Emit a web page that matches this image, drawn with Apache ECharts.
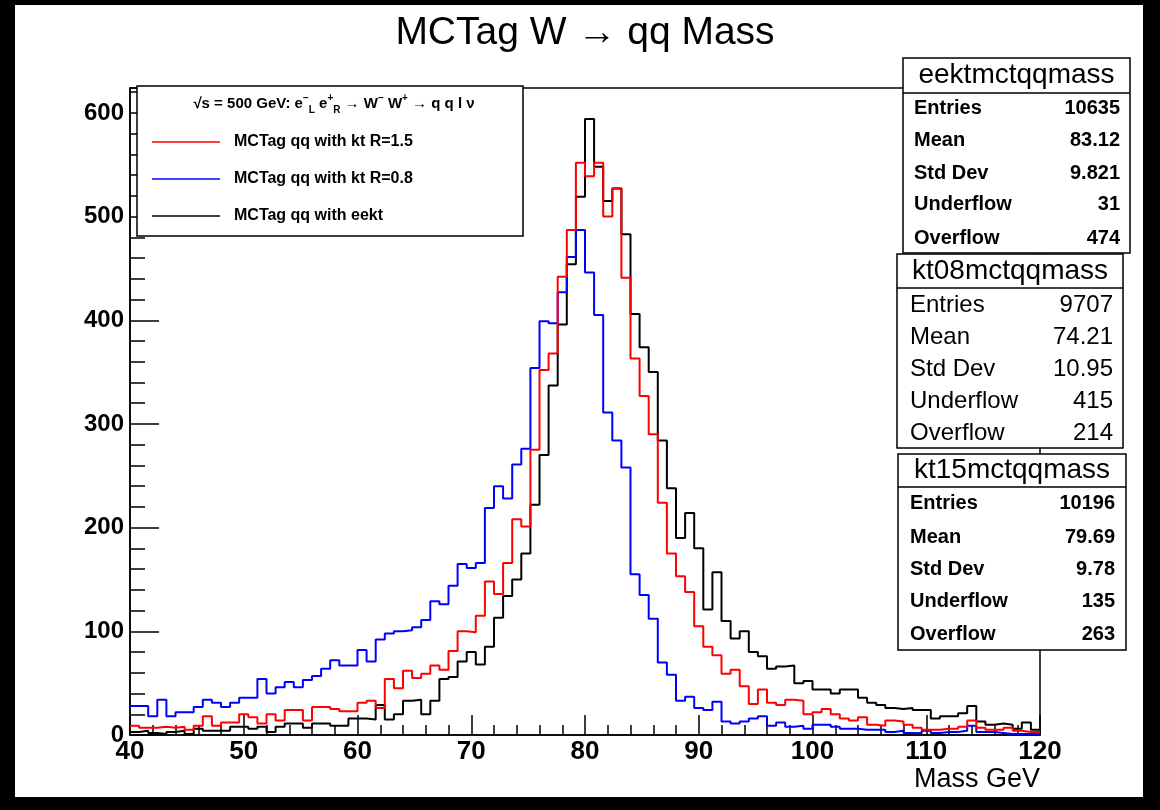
<!DOCTYPE html>
<html><head><meta charset="utf-8">
<script src="https://cdn.jsdelivr.net/npm/echarts@6/dist/echarts.min.js"></script>
<style>html,body{margin:0;padding:0;background:#000;} #c{width:1160px;height:810px;}</style>
</head><body><div id="c"></div>
<script>
// ---- data ----
const histMin = 40, histMax = 120, nBins = 100;
const kt15 = [9,7,7,8,7,8,5,9,18,9,
 12,12,20,17,11,20,14,24,24,14,
 27,27,25,23,23,31,33,26,54,45,
 62,55,59,67,63,81,100,99,115,148,
 136,166,208,201,275,352,368,442,487,552,
 539,552,500,527,441,363,327,290,224,175,
 153,138,105,85,77,59,63,47,30,44,
 31,29,34,33,20,22,25,20,16,14,
 17,10,9,14,13,10,7,5,5,6,
 6,8,14,7,5,5,7,4,3,3];
const kt08 = [28,28,18,34,18,22,22,27,34,31,
 27,31,36,36,54,40,46,51,46,53,
 57,64,72,67,67,82,71,92,98,100,
 101,104,111,129,126,144,165,161,166,219,
 240,228,261,276,354,399,397,427,461,487,
 446,405,311,284,258,155,135,112,70,58,
 33,37,26,24,32,13,11,13,16,18,
 9,12,8,9,6,10,10,8,6,6,
 5,5,5,3,4,2,2,4,2,3,
 3,4,9,3,3,2,1,1,1,1];
const eekt = [3,4,2,1,3,4,1,6,4,4,
 4,8,8,6,8,3,8,11,11,7,
 11,11,9,9,16,16,15,29,15,20,
 33,34,20,33,54,56,71,80,68,85,
 113,134,150,175,222,270,337,396,454,519,
 594,548,515,527,483,406,374,350,284,238,
 190,214,180,121,157,110,93,100,80,76,
 64,66,67,50,52,44,44,40,44,44,
 36,31,29,26,25,26,24,24,16,18,
 18,21,28,13,10,11,10,6,12,5];
const chartTitle = 'MCTag W \u2192 qq Mass';
const xTitle = 'Mass GeV';
const legendLabels = ['MCTag qq with kt R=1.5','MCTag qq with kt R=0.8','MCTag qq with eekt'];
const statNames = ['eektmctqqmass','kt08mctqqmass','kt15mctqqmass'];
const statLabels = ['Entries','Mean','Std Dev','Underflow','Overflow'];
const statEekt = ['10635','83.12','9.821','31','474'];
const statKt08 = ['9707','74.21','10.95','415','214'];
const statKt15 = ['10196','79.69','9.78','135','263'];

// ---- build ----
const FONT = 'Liberation Sans, Arial, sans-serif';
function toSteps(vals){
  const w = (histMax - histMin) / nBins;
  const pts = vals.map((v,i)=>[+(histMin + i*w).toFixed(4), v]);
  pts.push([histMax, vals[vals.length-1]]);
  return pts;
}
const gridRect = {left:130, right:120, top:88, bottom:75};
const chart = echarts.init(document.getElementById('c'), null, {renderer:'canvas'});

const graphics = [];
graphics.push({type:'rect', z:-10, silent:true, shape:{x:15,y:5,width:1128,height:792}, style:{fill:'#fff'}});
graphics.push({type:'text', x:585, y:33, style:{text:chartTitle, fill:'#000', fontSize:39, fontFamily:FONT, align:'center', verticalAlign:'middle'}});
graphics.push({type:'text', x:1040, y:780, style:{text:xTitle, fill:'#000', fontSize:27, fontFamily:FONT, align:'right', verticalAlign:'middle'}});

// legend
graphics.push({type:'rect', z:10, shape:{x:137,y:86,width:386,height:150}, style:{fill:'#fff', stroke:'#000', lineWidth:1.5}});
graphics.push({type:'text', z:11, x:334, y:104, style:{
  text:'{n|\u221As = 500 GeV: e}{sp|\u2212}{sb|L}{n| e}{sp|+}{sb|R}{n| \u2192 W}{sp|\u2212}{n| W}{sp|+}{n| \u2192 q q l \u03BD}',
  align:'center', verticalAlign:'middle', fill:'#000',
  rich:{
    n:{fontSize:15, fontWeight:'bold', fontFamily:FONT, lineHeight:22, verticalAlign:'middle'},
    sp:{fontSize:10, fontWeight:'bold', fontFamily:FONT, lineHeight:10, verticalAlign:'top'},
    sb:{fontSize:10, fontWeight:'bold', fontFamily:FONT, lineHeight:10, verticalAlign:'bottom'}
  }}});
const legColors = ['#ff0000','#0000ff','#000000'];
const legY = [142,179,216];
legendLabels.forEach((t,i)=>{
  graphics.push({type:'line', z:11, shape:{x1:152,y1:legY[i],x2:220,y2:legY[i]}, style:{stroke:legColors[i], lineWidth:1.5}});
  graphics.push({type:'text', z:11, x:234, y:legY[i], style:{text:t, fill:'#000', fontSize:16, fontWeight:'bold', fontFamily:FONT, align:'left', verticalAlign:'middle'}});
});

// stat boxes
const boxes = [
  {x:903, y:58, w:227, h:195, sep:93, titleY:75, rows:[108,140,173,204,238], lx:914, rx:1120, fs:20, fw:'bold', tfs:28, vals:statEekt},
  {x:897, y:254, w:226, h:194, sep:288, titleY:271, rows:[305,337,369,401,433], lx:910, rx:1113, fs:24, fw:'normal', tfs:28, vals:statKt08},
  {x:898, y:454, w:228, h:196, sep:487, titleY:470, rows:[503,537,569,601,634], lx:910, rx:1115, fs:20, fw:'bold', tfs:28, vals:statKt15}
];
boxes.forEach((b,k)=>{
  graphics.push({type:'rect', z:10, shape:{x:b.x,y:b.y,width:b.w,height:b.h}, style:{fill:'#fff', stroke:'#000', lineWidth:1.5}});
  graphics.push({type:'line', z:11, shape:{x1:b.x,y1:b.sep,x2:b.x+b.w,y2:b.sep}, style:{stroke:'#000', lineWidth:1.5}});
  graphics.push({type:'text', z:11, x:b.x+b.w/2, y:b.titleY, style:{text:statNames[k], fill:'#000', fontSize:b.tfs, fontFamily:FONT, align:'center', verticalAlign:'middle'}});
  statLabels.forEach((l,j)=>{
    graphics.push({type:'text', z:11, x:b.lx, y:b.rows[j], style:{text:l, fill:'#000', fontSize:b.fs, fontWeight:b.fw, fontFamily:FONT, align:'left', verticalAlign:'middle'}});
    graphics.push({type:'text', z:11, x:b.rx, y:b.rows[j], style:{text:b.vals[j], fill:'#000', fontSize:b.fs, fontWeight:b.fw, fontFamily:FONT, align:'right', verticalAlign:'middle'}});
  });
});

const axLine = {show:true, lineStyle:{color:'#000', width:1.5}};
const option = {
  animation:false,
  backgroundColor:'#000',
  grid:[
    Object.assign({show:true, backgroundColor:'#fff', borderColor:'#000', borderWidth:1.5}, gridRect),
    Object.assign({show:false}, gridRect)
  ],
  xAxis:[
    {type:'value', gridIndex:0, min:histMin, max:histMax, interval:10,
     axisLine:axLine, splitLine:{show:false},
     axisTick:{show:true, inside:true, length:20, lineStyle:{color:'#000', width:1.5}},
     minorTick:{show:true, splitNumber:5, length:10, lineStyle:{color:'#000', width:1.5}},
     axisLabel:{color:'#000', fontSize:26, fontWeight:'bold', fontFamily:FONT, margin:4}},
    {type:'value', gridIndex:1, min:histMin, max:histMax, show:false}
  ],
  yAxis:[
    {type:'value', gridIndex:0, min:0, max:624, interval:100,
     axisLine:axLine, splitLine:{show:false},
     axisTick:{show:true, inside:true, length:29, lineStyle:{color:'#000', width:1.5}},
     axisLabel:{color:'#000', fontSize:24, fontWeight:'bold', fontFamily:FONT, margin:6,
       formatter:v=> (v % 100 === 0 ? String(v) : '')}},
    {type:'value', gridIndex:1, min:0, max:624, interval:20, position:'left',
     axisLine:{show:false}, splitLine:{show:false}, axisLabel:{show:false},
     axisTick:{show:true, inside:true, length:15, lineStyle:{color:'#000', width:1.5}}}
  ],
  graphic:graphics,
  series:[
    {type:'line', name:'eekt', xAxisIndex:0, yAxisIndex:0, step:'end', symbol:'none', data:toSteps(eekt), lineStyle:{color:'#000', width:2}, z:3},
    {type:'line', name:'kt08', xAxisIndex:0, yAxisIndex:0, step:'end', symbol:'none', data:toSteps(kt08), lineStyle:{color:'#0000ff', width:2}, z:4},
    {type:'line', name:'kt15', xAxisIndex:0, yAxisIndex:0, step:'end', symbol:'none', data:toSteps(kt15), lineStyle:{color:'#ff0000', width:2}, z:5}
  ]
};
chart.setOption(option);
</script></body></html>
